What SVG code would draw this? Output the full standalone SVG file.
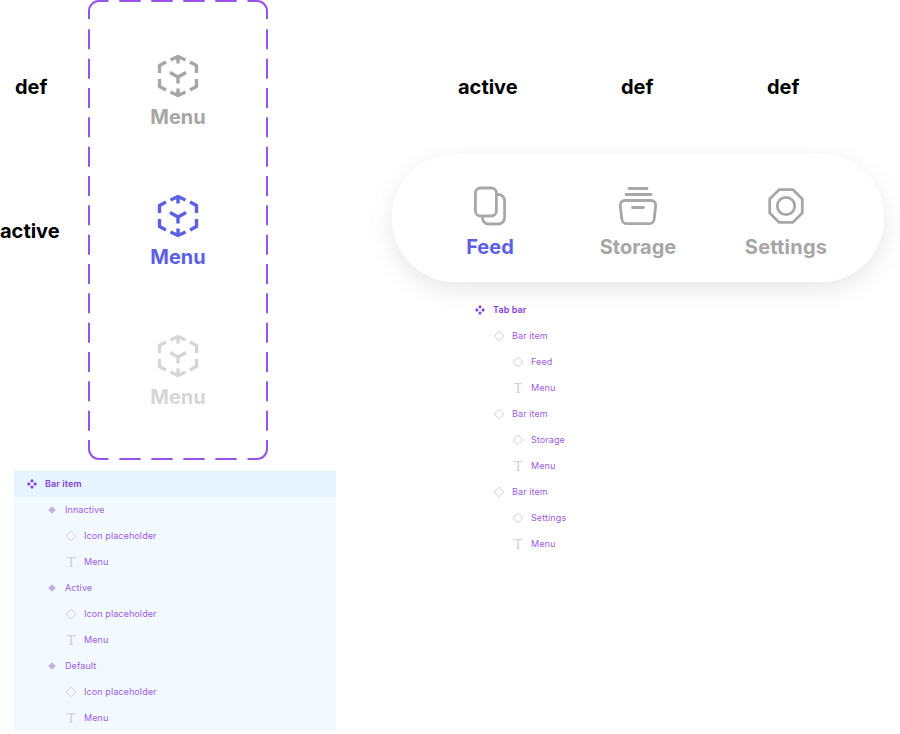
<svg xmlns="http://www.w3.org/2000/svg" width="900" height="734" viewBox="0 0 900 734">
<style>
.lab{font:700 20px Inter,"Liberation Sans",sans-serif;fill:#000}
.m{font:700 20px Inter,"Liberation Sans",sans-serif;text-anchor:middle}
.t{font:400 9px Inter,"Liberation Sans",sans-serif;fill:#9a5ce0;letter-spacing:.1px}
.b{font-weight:600;fill:#8440dc}
.ic{fill:none;stroke-width:3.400;stroke-linecap:butt;stroke-linejoin:round}
.tab{fill:none;stroke:#a8a8a8;stroke-width:2.800;stroke-linecap:round;stroke-linejoin:round}
.d{fill:none;stroke:#d3cfe0;stroke-width:1}
.f{fill:#c3b1dc}
.T{font:400 14px "Liberation Serif",serif;fill:#d2cddc;text-anchor:middle}
.fr{fill:none;stroke:#9553e9;stroke-width:2}
.v{stroke-dasharray:20 9.333}
.h{stroke-dasharray:21.333 10.667}
</style>
<defs>
<g id="cube" class="ic">
<path d="M-7.500-16 0-19.500 7.500-16M0-19.500V-12.500"/>
<path d="M-7.500 16 0 19.500 7.500 16M0 19.500V12.500"/>
<path d="M-18.500-3V-10.500L-12-14M18.500-3V-10.500L12-14"/>
<path d="M-18.500 3V10.500L-12 14M18.500 3V10.500L12 14"/>
<path d="M-8-3.500 0 1 8-3.500M0 1V7.500"/>
</g>
<g id="bar"><path d="M0-5 1.900-3.100 0-1.200-1.900-3.100ZM0 5 1.900 3.100 0 1.200-1.900 3.100ZM-5 0-3.100-1.900-1.200 0-3.100 1.900ZM5 0 3.100-1.900 1.200 0 3.100 1.900Z" fill="#8440dc"/></g>
<path id="dia" class="d" d="M0-4.800 4.800 0 0 4.800-4.800 0Z"/>
<path id="fdia" class="f" d="M0-3.800 3.800 0 0 3.800-3.800 0Z"/>
<filter id="sh" x="-20%" y="-40%" width="140%" height="200%"><feDropShadow dx="0" dy="8" stdDeviation="12" flood-color="#000" flood-opacity=".09"/></filter>
</defs>
<g id="frame">
<path class="fr" d="M89 19V11A10 10 0 0 1 99 1H108.500M247.500 1H257A10 10 0 0 1 267 11V19M267 440V449A10 10 0 0 1 257 459H247.500M108.500 459H99A10 10 0 0 1 89 449V440"/>
<path class="fr v" d="M89 29.330V440M267 29.330V440"/>
<path class="fr h" d="M119.330 1H247M119.330 459H247"/>
</g>
<g id="labels">
<text class="lab" x="15" y="94">def</text>
<text class="lab" x="0" y="238">active</text>
<text class="lab" x="458" y="94">active</text>
<text class="lab" x="621" y="94">def</text>
<text class="lab" x="767" y="94">def</text>
</g>
<g id="item-def"><use href="#cube" x="178" y="76" stroke="#a6a6a6"/><text class="m" x="178" y="124" fill="#a6a6a6">Menu</text></g>
<g id="item-active"><use href="#cube" x="178" y="216" stroke="#5d5fe4"/><text class="m" x="178" y="264" fill="#5d5fe4">Menu</text></g>
<g id="item-inactive"><use href="#cube" x="178" y="356" stroke="#d6d6d6"/><text class="m" x="178" y="404" fill="#d6d6d6">Menu</text></g>
<g id="tabbar">
<rect x="392" y="154" width="492" height="128" rx="64" fill="#fff" filter="url(#sh)"/>
<rect class="tab" x="475.400" y="188" width="21" height="28" rx="5"/>
<path class="tab" d="M498 194.500A6.500 6.500 0 0 1 504.600 201V217.500A6.500 6.500 0 0 1 498 224H488.500A6 6 0 0 1 482.500 218"/>
<path class="tab" d="M629 188.500H647M626 194.500H651M632.500 207.500H643.500"/>
<path class="tab" d="M625 200.500H651A4.500 4.500 0 0 1 655.700 205.500L654.300 218.500A5.500 5.500 0 0 1 648.800 223.700H627.200A5.500 5.500 0 0 1 621.700 218.500L620.300 205.500A4.500 4.500 0 0 1 625 200.500Z"/>
<path class="tab" d="M779 189.700H793L802.300 199V213L793 222.300H779L769.700 213V199Z"/>
<circle class="tab" cx="786" cy="206" r="8.700"/>
<text class="m" x="490" y="254" fill="#5d5fe4">Feed</text>
<text class="m" x="638" y="254" fill="#a6a6a6">Storage</text>
<text class="m" x="786" y="254" fill="#a6a6a6" letter-spacing=".2">Settings</text>
</g>
<g id="tree-right">
<use href="#bar" x="480" y="310"/><text class="t b" x="493" y="313.300">Tab bar</text>
<use href="#dia" x="499" y="336"/><text class="t" x="512" y="339.300">Bar item</text>
<use href="#dia" x="518" y="362"/><text class="t" x="531" y="365.300">Feed</text>
<text class="T" x="518" y="392.500">T</text><text class="t" x="531" y="391.300">Menu</text>
<use href="#dia" x="499" y="414"/><text class="t" x="512" y="417.300">Bar item</text>
<use href="#dia" x="518" y="440"/><text class="t" x="531" y="443.300">Storage</text>
<text class="T" x="518" y="470.500">T</text><text class="t" x="531" y="469.300">Menu</text>
<use href="#dia" x="499" y="492"/><text class="t" x="512" y="495.300">Bar item</text>
<use href="#dia" x="518" y="518"/><text class="t" x="531" y="521.300">Settings</text>
<text class="T" x="518" y="548.500">T</text><text class="t" x="531" y="547.300">Menu</text>
</g>
<g id="tree-left">
<rect x="14" y="471" width="322" height="260" fill="#f2f9ff"/>
<rect x="14" y="471" width="322" height="26" fill="#e5f4ff"/>
<use href="#bar" x="32" y="484"/><text class="t b" x="45" y="487.300">Bar item</text>
<use href="#fdia" x="52" y="510"/><text class="t" x="65" y="513.300">Innactive</text>
<use href="#dia" x="71" y="536"/><text class="t" x="84" y="539.300">Icon placeholder</text>
<text class="T" x="71" y="566.500">T</text><text class="t" x="84" y="565.300">Menu</text>
<use href="#fdia" x="52" y="588"/><text class="t" x="65" y="591.300">Active</text>
<use href="#dia" x="71" y="614"/><text class="t" x="84" y="617.300">Icon placeholder</text>
<text class="T" x="71" y="644.500">T</text><text class="t" x="84" y="643.300">Menu</text>
<use href="#fdia" x="52" y="666"/><text class="t" x="65" y="669.300">Default</text>
<use href="#dia" x="71" y="692"/><text class="t" x="84" y="695.300">Icon placeholder</text>
<text class="T" x="71" y="722.500">T</text><text class="t" x="84" y="721.300">Menu</text>
</g>
</svg>
